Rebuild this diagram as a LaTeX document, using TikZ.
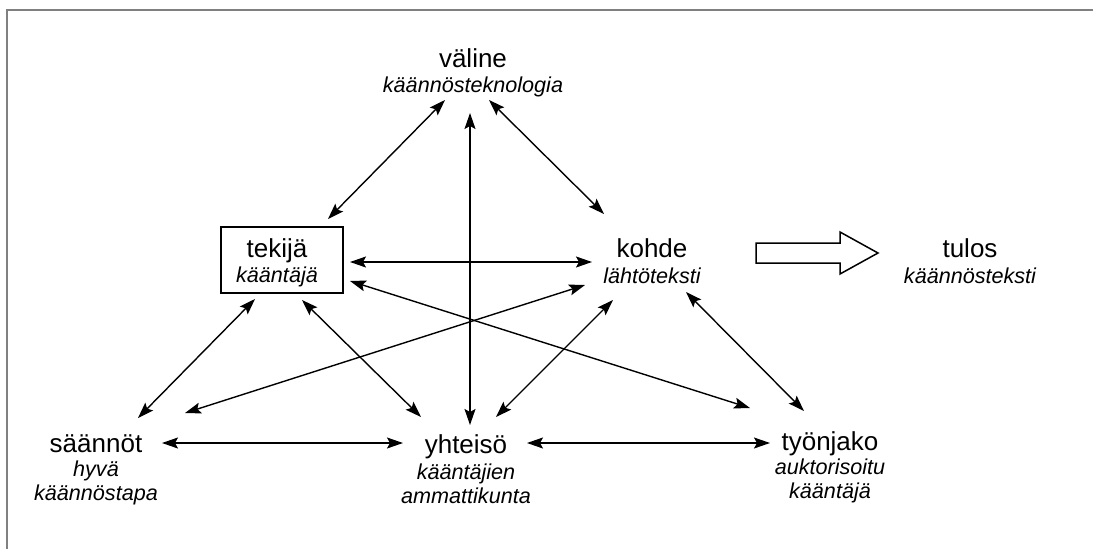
\documentclass[tikz,border=0pt]{standalone}
\usepackage{fontspec}
\setmainfont{Liberation Sans}
\usetikzlibrary{arrows.meta}
\begin{document}
\begin{tikzpicture}[x=1pt,y=-1pt,
  lbl/.style={font=\fontsize{26}{30}\selectfont, inner sep=0pt, anchor=base},
  sublbl/.style={font=\fontsize{21.6}{25}\selectfont\itshape, inner sep=0pt, anchor=base},
  link/.style={line width=1.4pt, {Stealth[length=16pt,width=11pt,inset=3pt]}-{Stealth[length=16pt,width=11pt,inset=3pt]}},
  frameline/.style={draw={rgb,255:red,128;green,128;blue,128}, line width=2pt},
  boxstyle/.style={draw, line width=1.5pt, minimum width=122pt, minimum height=66pt, inner sep=0pt},
  bigarrow/.style={draw, line width=1.5pt, line join=miter}]
\useasboundingbox (0,0) rectangle (1093,549);
\draw[frameline] (6.5,549) -- (6.5,10) -- (1093,10);

% tekija box
\node[boxstyle] (TB) at (282,260) {};

% labels
\node[lbl] (V) at (473,67) {väline};
\node[sublbl] (V1) at (473,92) {käännösteknologia};
\node[lbl] (T) at (277,257) {tekijä};
\node[sublbl] (T1) at (277,282) {kääntäjä};
\node[lbl] (K) at (652,257) {kohde};
\node[sublbl] (K1) at (652,283) {lähtöteksti};
\node[lbl] (R) at (970,257) {tulos};
\node[sublbl] (R1) at (970,283) {käännösteksti};
\node[lbl] (S) at (96,452) {säännöt};
\node[sublbl] (S1) at (96,476) {hyvä};
\node[sublbl] (S2) at (96,500) {käännöstapa};
\node[lbl] (Y) at (466,453) {yhteisö};
\node[sublbl] (Y1) at (466,479) {kääntäjien};
\node[sublbl] (Y2) at (466,503) {ammattikunta};
\node[lbl] (W) at (830,450) {työnjako};
\node[sublbl] (W1) at (830,474) {auktorisoitu};
\node[sublbl] (W2) at (830,498) {kääntäjä};

% connectors
\draw[link] ([shift={(-28,33)}]V.base) -- ([shift={(46,-41)}]TB.center);
\draw[link] ([shift={(16,33)}]V.base) -- ([shift={(-48,-43)}]K.base);
\draw[link] ([shift={(-3,46)}]V.base) -- ([shift={(4,-28)}]Y.base);
\draw[link] ([shift={(68,2)}]TB.center) -- ([shift={(-60,5)}]K.base);
\draw[link] ([shift={(68,21)}]TB.center) -- ([shift={(-80,-42)}]W.base);
\draw[link] ([shift={(-67,28)}]K.base) -- ([shift={(89,-39)}]S.base);
\draw[link] ([shift={(-27,39)}]TB.center) -- ([shift={(42,-34)}]S.base);
\draw[link] ([shift={(20,40)}]TB.center) -- ([shift={(-45,-36)}]Y.base);
\draw[link] ([shift={(-39,43)}]K.base) -- ([shift={(30,-36)}]Y.base);
\draw[link] ([shift={(34,35)}]K.base) -- ([shift={(-26,-39)}]W.base);
\draw[link] ([shift={(66,-9)}]S.base) -- ([shift={(-63,-10)}]Y.base);
\draw[link] ([shift={(61,-10)}]Y.base) -- ([shift={(-60,-7)}]W.base);

% big arrow kohde -> tulos
\draw[bigarrow] (756,243) -- (840,243) -- (840,232) -- (878,253) -- (840,274) -- (840,263) -- (756,263) -- cycle;
\end{tikzpicture}
\end{document}
